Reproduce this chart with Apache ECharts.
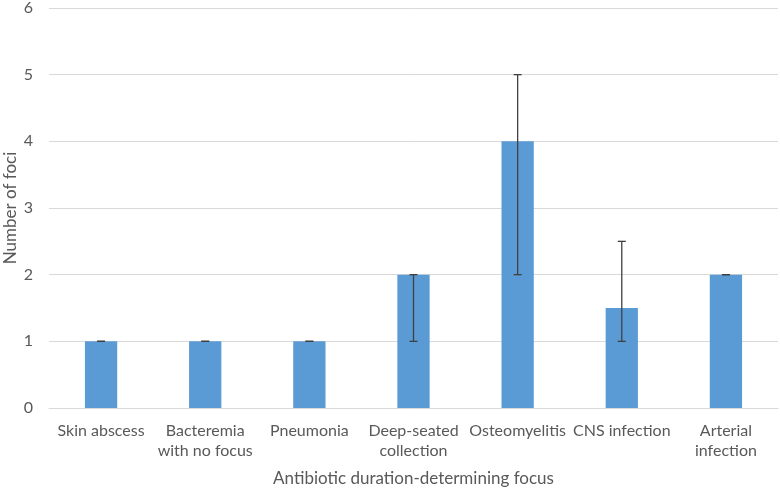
<!DOCTYPE html>
<html>
<head>
<meta charset="utf-8">
<script src="https://cdn.jsdelivr.net/npm/echarts@6/dist/echarts.min.js"></script>
<style>html,body{margin:0;padding:0;background:#fff}#c{width:780px;height:489px}</style>
</head>
<body>
<div id="c"></div>
<script>
var categories = ['Skin abscess', 'Bacteremia\nwith no focus', 'Pneumonia', 'Deep-seated\ncollection', 'Osteomyelitis', 'CNS infection', 'Arterial\ninfection'];
var values = [1, 1, 1, 2, 4, 1.5, 2];
var errLow = [1, 1, 1, 1, 2, 1, 2];
var errHigh = [1, 1, 1, 2, 5, 2.5, 2];
var yTicks = [0, 1, 2, 3, 4, 5, 6];

var FONT = 'Lato';
var TXT = '#595959';

var errData = categories.map(function (c, i) { return [i, errLow[i], errHigh[i]]; });

var chart = echarts.init(document.getElementById('c'), null, {renderer: 'canvas'});
chart.setOption({
  animation: false,
  backgroundColor: '#fff',
  grid: {left: 49, right: 2, top: 8, bottom: 81, containLabel: false, outerBoundsMode: 'none'},
  xAxis: {
    type: 'category',
    data: categories,
    name: 'Antibiotic duration-determining focus',
    nameLocation: 'middle',
    nameGap: 62,
    nameMoveOverlap: false,
    nameTextStyle: {color: TXT, fontFamily: FONT, fontSize: 17},
    axisLine: {lineStyle: {color: '#D9D9D9', width: 1}},
    axisTick: {show: false},
    axisLabel: {interval: 0, color: TXT, fontFamily: FONT, fontSize: 16, margin: 13, lineHeight: 20}
  },
  yAxis: {
    type: 'value',
    min: yTicks[0],
    max: yTicks[yTicks.length - 1],
    interval: 1,
    name: 'Number of foci',
    nameLocation: 'middle',
    nameGap: 30,
    nameMoveOverlap: false,
    nameRotate: 90,
    nameTextStyle: {color: TXT, fontFamily: FONT, fontSize: 17},
    axisLine: {show: false},
    axisTick: {show: false},
    splitLine: {lineStyle: {color: '#D9D9D9', width: 1}},
    axisLabel: {color: TXT, fontFamily: FONT, fontSize: 16, margin: 16}
  },
  series: [
    {
      type: 'bar',
      data: values,
      barWidth: '31%',
      itemStyle: {color: '#5B9BD5'}
    },
    {
      type: 'custom',
      data: errData,
      z: 10,
      renderItem: function (params, api) {
        var x = api.value(0);
        var lo = api.coord([x, api.value(1)]);
        var hi = api.coord([x, api.value(2)]);
        var hw = 4;
        var st = {stroke: '#404040', lineWidth: 1.3};
        return {
          type: 'group',
          children: [
            {type: 'line', shape: {x1: lo[0], y1: lo[1], x2: hi[0], y2: hi[1]}, style: st},
            {type: 'line', shape: {x1: lo[0] - hw, y1: lo[1], x2: lo[0] + hw, y2: lo[1]}, style: st},
            {type: 'line', shape: {x1: hi[0] - hw, y1: hi[1], x2: hi[0] + hw, y2: hi[1]}, style: st}
          ]
        };
      }
    }
  ]
});
</script>
</body>
</html>
